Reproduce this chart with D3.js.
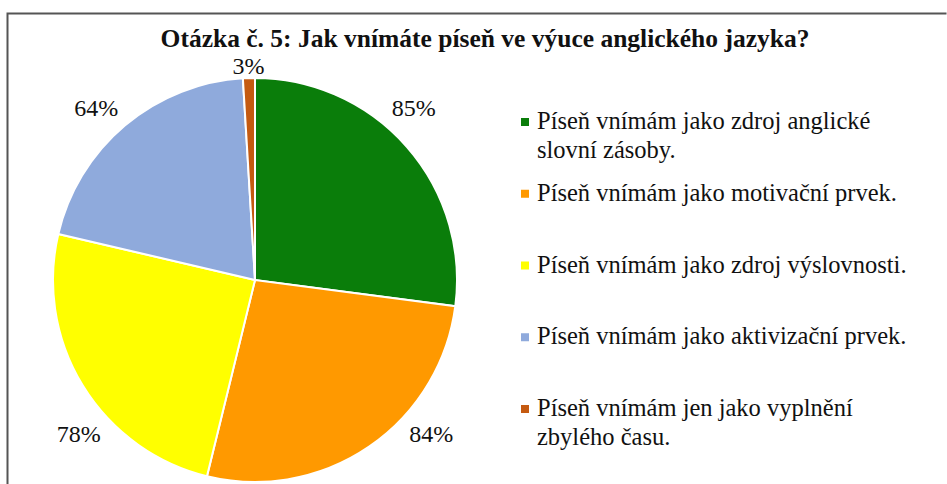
<!DOCTYPE html>
<html>
<head>
<meta charset="utf-8">
<script src="https://cdn.jsdelivr.net/npm/d3@7"></script>
<style>
  body { margin: 0; background: #fff; }
</style>
</head>
<body>
<svg id="chart"></svg>
<script>
const categories = [
    "Píseň vnímám jako zdroj anglické slovní zásoby.",
    "Píseň vnímám jako motivační prvek.",
    "Píseň vnímám jako zdroj výslovnosti.",
    "Píseň vnímám jako aktivizační prvek.",
    "Píseň vnímám jen jako vyplnění zbylého času."
];
const legendLines = [
    ["Píseň vnímám jako zdroj anglické", "slovní zásoby."],
    ["Píseň vnímám jako motivační prvek."],
    ["Píseň vnímám jako zdroj výslovnosti."],
    ["Píseň vnímám jako aktivizační prvek."],
    ["Píseň vnímám jen jako vyplnění", "zbylého času."]
];
const values = [85, 84, 78, 64, 3];
const colors = ["#0a7d0a", "#ff9900", "#ffff00", "#8faadc", "#c55a11"];
const title = "Otázka č. 5: Jak vnímáte píseň ve výuce anglického jazyka?";

const width = 947;
const height = 484;
const cx = 255, cy = 280, radius = 202;
const labelRadius = 234;
const serif = "'Liberation Serif', 'Times New Roman', serif";

const svg = d3.select("#chart")
    .attr("width", width)
    .attr("height", height)
    .attr("font-family", serif);

// chart frame (left and top edges visible)
svg.append("path")
    .attr("d", `M7.5,${height} V13.5 H946.5`)
    .attr("fill", "none")
    .attr("stroke", "#555")
    .attr("stroke-width", 2);

svg.append("text")
    .attr("x", 485)
    .attr("y", 47)
    .attr("text-anchor", "middle")
    .attr("font-weight", "bold")
    .attr("font-size", 25.5)
    .attr("fill", "#111")
    .text(title);

const pie = d3.pie().sort(null).value(d => d);
const arcs = pie(values);
const arc = d3.arc().innerRadius(0).outerRadius(radius);

const g = svg.append("g").attr("transform", `translate(${cx},${cy})`);

g.selectAll("path")
    .data(arcs)
    .enter()
    .append("path")
    .attr("d", arc)
    .attr("fill", (d, i) => colors[i])
    .attr("stroke", "#fff")
    .attr("stroke-width", 2);

// outside-end labels: snapped to a top and a bottom row inside the chart area,
// a thin slice near the top keeps its label just above the arc
const topRow = -172, bottomRow = 154;
g.selectAll(".label")
    .data(arcs)
    .enter()
    .append("text")
    .attr("class", "label")
    .attr("text-anchor", "middle")
    .attr("dominant-baseline", "central")
    .attr("font-size", 24)
    .attr("fill", "#111")
    .each(function (d) {
        const a = (d.startAngle + d.endAngle) / 2;
        const s = Math.sin(a), c = Math.cos(a);
        let x, y;
        if (Math.abs(s) < 0.2) {
            x = (radius + 12) * s;
            y = -(radius + 12) * c;
        } else {
            y = c > 0 ? topRow : bottomRow;
            x = Math.sign(s) * Math.sqrt(labelRadius * labelRadius - y * y);
        }
        d3.select(this).attr("x", x).attr("y", y);
    })
    .text(d => d.data + "%");

const legendY = d3.scalePoint()
    .domain(d3.range(categories.length))
    .range([122, 409]);

const legend = svg.selectAll(".legend")
    .data(legendLines)
    .enter()
    .append("g")
    .attr("class", "legend")
    .attr("transform", (d, i) => `translate(521, ${legendY(i)})`);

legend.append("rect")
    .attr("x", 0)
    .attr("y", -4)
    .attr("width", 8)
    .attr("height", 8)
    .attr("fill", (d, i) => colors[i]);

legend.append("text")
    .attr("x", 16)
    .attr("y", 7)
    .attr("font-size", 24.5)
    .attr("fill", "#111")
    .selectAll("tspan")
    .data(d => d)
    .enter()
    .append("tspan")
    .attr("x", 16)
    .attr("dy", (d, i) => i === 0 ? 0 : 29)
    .text(d => d);
</script>
</body>
</html>
